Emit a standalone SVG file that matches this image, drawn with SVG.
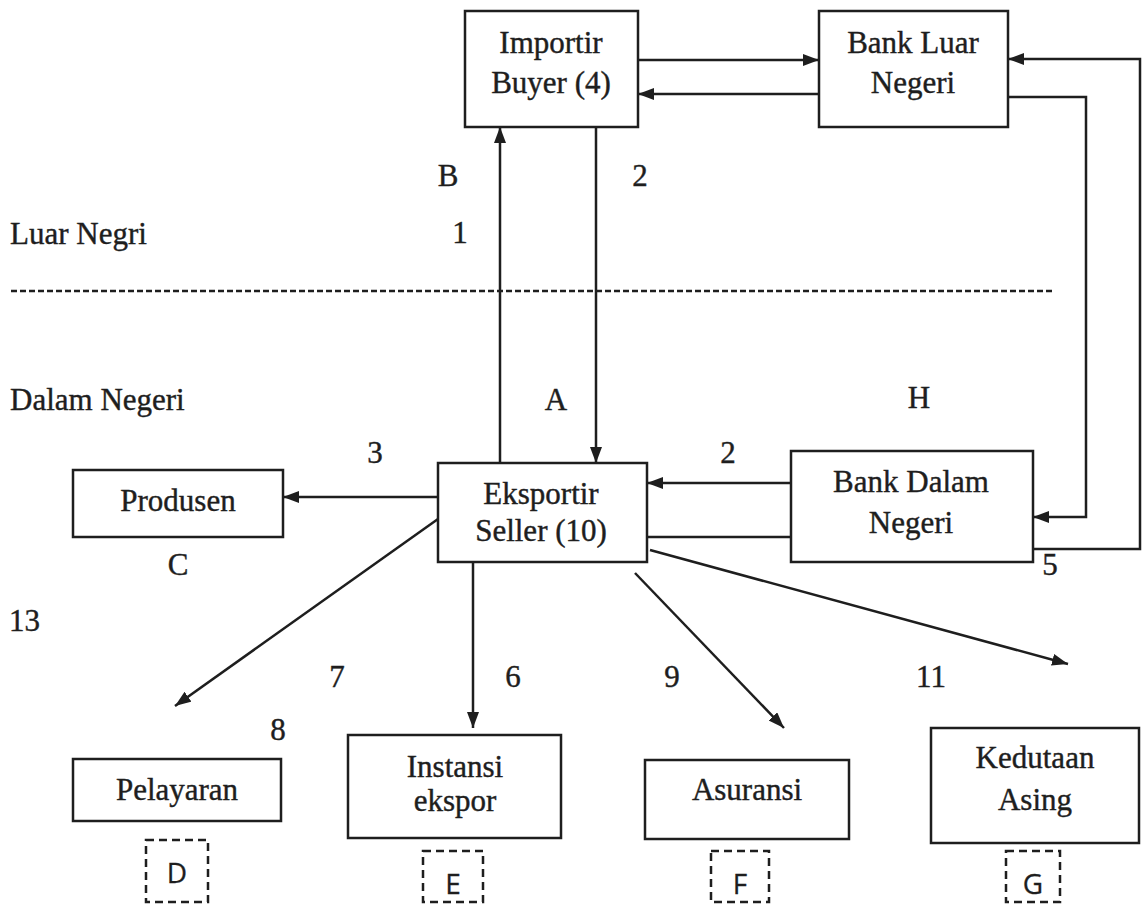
<svg xmlns="http://www.w3.org/2000/svg" width="1143" height="904" viewBox="0 0 1143 904">
<style>
.box{fill:#fff;stroke:#1e1e1e;stroke-width:2.5}
.dbox{fill:none;stroke:#1e1e1e;stroke-width:2.5;stroke-dasharray:8 5}
.ln{fill:none;stroke:#1e1e1e;stroke-width:2.5}
.ar{fill:none;stroke:#1e1e1e;stroke-width:2.5;marker-end:url(#ah)}
.t{font-family:"Liberation Serif","Times New Roman",serif;font-size:31px;fill:#1e1e1e;stroke:#1e1e1e;stroke-width:0.4;text-anchor:middle}
.tl{font-family:"Liberation Serif","Times New Roman",serif;font-size:31px;fill:#1e1e1e;stroke:#1e1e1e;stroke-width:0.4}
.s{font-family:"Open Sans","Liberation Sans",sans-serif;font-size:28px;fill:#1e1e1e;stroke:#1e1e1e;stroke-width:0.3;text-anchor:middle}
</style>
<defs>
<marker id="ah" markerUnits="userSpaceOnUse" markerWidth="18" markerHeight="14" refX="16" refY="6" orient="auto">
<path d="M0,0 L16,6 L0,12 Z" fill="#1e1e1e"/>
</marker>
</defs>
<rect width="1143" height="904" fill="#fff"/>

<g id="connectors">
<line class="ln" x1="11" y1="291" x2="1053" y2="291" style="stroke-dasharray:6 3;stroke-width:2.5"/>
<path class="ar" d="M638,60 H819"/>
<path class="ar" d="M819,94 H638"/>
<path class="ar" d="M1008,97 H1086 V517 H1033"/>
<path class="ar" d="M1033,549 H1140 V59 H1008"/>
<path class="ar" d="M500,463 V127"/>
<path class="ar" d="M596,127 V463"/>
<path class="ar" d="M791,483 H647"/>
<path class="ln" d="M647,537 H791"/>
<path class="ar" d="M438,497 H283"/>
<path class="ar" d="M438,519 L175,706"/>
<path class="ar" d="M473,562 V728"/>
<path class="ar" d="M635,573 L784,728"/>
<path class="ar" d="M650,550 L1068,664"/>
</g>

<g id="importir">
<rect class="box" x="465" y="11" width="173" height="116"/>
<text class="t" x="551" y="53">Importir</text>
<text class="t" x="551" y="93">Buyer (4)</text>
</g>
<g id="bank-luar">
<rect class="box" x="819" y="11" width="189" height="116"/>
<text class="t" x="913" y="53">Bank Luar</text>
<text class="t" x="913" y="93">Negeri</text>
</g>
<g id="eksportir">
<rect class="box" x="438" y="463" width="209" height="99"/>
<text class="t" x="541" y="504">Eksportir</text>
<text class="t" x="541" y="541">Seller (10)</text>
</g>
<g id="bank-dalam">
<rect class="box" x="791" y="451" width="242" height="111"/>
<text class="t" x="911" y="492">Bank Dalam</text>
<text class="t" x="911" y="533">Negeri</text>
</g>
<g id="produsen">
<rect class="box" x="73" y="470" width="210" height="67"/>
<text class="t" x="178" y="511">Produsen</text>
</g>
<g id="pelayaran">
<rect class="box" x="73" y="759" width="208" height="62"/>
<text class="t" x="177" y="800">Pelayaran</text>
</g>
<g id="instansi">
<rect class="box" x="348" y="735" width="213" height="103"/>
<text class="t" x="455" y="777">Instansi</text>
<text class="t" x="455" y="811">ekspor</text>
</g>
<g id="asuransi">
<rect class="box" x="645" y="760" width="204" height="79"/>
<text class="t" x="747" y="800">Asuransi</text>
</g>
<g id="kedutaan">
<rect class="box" x="931" y="728" width="208" height="115"/>
<text class="t" x="1035" y="768">Kedutaan</text>
<text class="t" x="1035" y="810">Asing</text>
</g>
<g id="box-d">
<rect class="dbox" x="146" y="840" width="62" height="62"/>
<text class="s" x="177" y="883">D</text>
</g>
<g id="box-e">
<rect class="dbox" x="423" y="851" width="60" height="51"/>
<text class="s" x="453" y="894">E</text>
</g>
<g id="box-f">
<rect class="dbox" x="711" y="851" width="58" height="51"/>
<text class="s" x="740" y="894">F</text>
</g>
<g id="box-g">
<rect class="dbox" x="1006" y="851" width="54" height="51"/>
<text class="s" x="1033" y="894">G</text>
</g>

<g id="labels">
<text class="tl" x="10" y="244">Luar Negri</text>
<text class="tl" x="10" y="410">Dalam Negeri</text>
<text class="t" x="448" y="186">B</text>
<text class="t" x="640" y="186">2</text>
<text class="t" x="460" y="243">1</text>
<text class="t" x="556" y="410">A</text>
<text class="t" x="919" y="408">H</text>
<text class="t" x="375" y="463">3</text>
<text class="t" x="728" y="463">2</text>
<text class="t" x="178" y="575">C</text>
<text class="t" x="1050" y="575">5</text>
<text class="tl" x="9" y="631">13</text>
<text class="t" x="337" y="687">7</text>
<text class="t" x="513" y="687">6</text>
<text class="t" x="672" y="687">9</text>
<text class="t" x="931" y="687">11</text>
<text class="t" x="278" y="740">8</text>
</g>
</svg>
